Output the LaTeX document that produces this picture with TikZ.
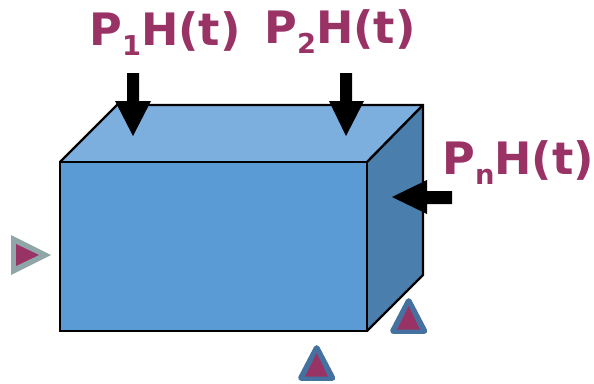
\documentclass[tikz,border=0pt]{standalone}
\usepackage{fontspec}
\setmainfont{DejaVu Sans}
\definecolor{lab}{HTML}{993366}
\definecolor{frontc}{HTML}{5B9BD5}
\definecolor{topc}{HTML}{7CAEDE}
\definecolor{sidec}{HTML}{4A7EAD}
\definecolor{grayedge}{HTML}{8FA5A8}
\definecolor{blueedge}{HTML}{44719F}
\tikzset{
  face/.style={draw=black,line width=1.8pt,line join=miter},
  load/.style={fill=black,draw=none},
  lbl/.style={inner sep=0pt,anchor=base west,text=lab,font=\fontsize{33.5}{33.5}\selectfont\bfseries},
  pinB/.style={draw=blueedge,fill=blueedge,line width=4.3pt,line join=round}
}
\newcommand{\sbs}[1]{\raisebox{-8.2pt}{\fontsize{20.5}{20.5}\selectfont\bfseries #1}}
\begin{document}
\begin{tikzpicture}[x=0.75pt,y=-0.75pt]
\useasboundingbox (0,0) rectangle (594,383);
% box
\fill[topc] (60,162) -- (117,105) -- (423,105) -- (367,162) -- cycle;
\fill[sidec] (367,162) -- (423,105) -- (423,275) -- (367,331) -- cycle;
\draw[face,fill=frontc] (60,162) rectangle (367,331);
\draw[face] (60,162) -- (117,105) -- (423,105) -- (423,275) -- (367,331);
\draw[face] (367,162) -- (423,105);
% loads
\fill[load] (127,73) -- (139,73) -- (139,101) -- (151,101) -- (133,136) -- (115,101) -- (127,101) -- cycle;
\fill[load] (340,73) -- (352,73) -- (352,101) -- (364,101) -- (346,136) -- (329,101) -- (340,101) -- cycle;
\fill[load] (452,191) -- (452,204) -- (427,204) -- (427,214) -- (392,197) -- (427,180) -- (427,191) -- cycle;
% labels
\node[lbl] (p1) at (89,45) {P\sbs{1}H(t)};
\node[lbl] (p2) at (264,43) {P\sbs{2}H(t)};
\node[lbl] (pn) at (442,174) {P\sbs{n}H(t)};
% supports
\fill[grayedge] (11,235) -- (11,275) -- (51,255) -- cycle;
\fill[lab] (16,244) -- (16,266) -- (39,255) -- cycle;
\draw[pinB] (316.7,348) -- (301,378) -- (332.4,378) -- cycle;
\fill[lab] (316.7,353) -- (305,376.7) -- (328,376.7) -- cycle;
\draw[pinB] (408.7,301) -- (393,331) -- (424.4,331) -- cycle;
\fill[lab] (408.7,306) -- (397,329.7) -- (420,329.7) -- cycle;
\end{tikzpicture}
\end{document}
